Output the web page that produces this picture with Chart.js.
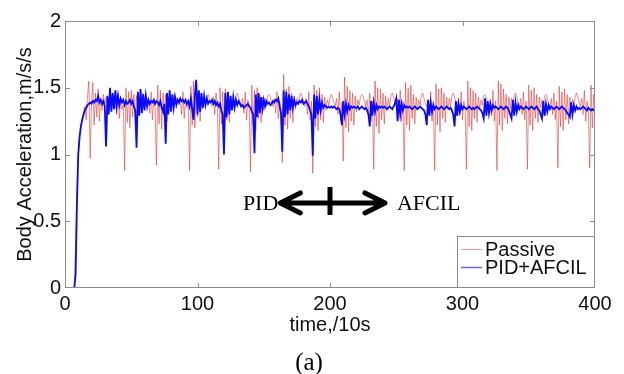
<!DOCTYPE html>
<html>
<head>
<meta charset="utf-8">
<script src="https://cdn.jsdelivr.net/npm/chart.js@4/dist/chart.umd.min.js"></script>
<style>
  html, body { margin: 0; padding: 0; background: #fff; }
  #wrap { width: 624px; height: 374px; }
</style>
</head>
<body>
<div id="wrap"><canvas id="myChart" width="624" height="374"></canvas></div>
<script>
// sample time (x 10 s), one reading per unit from 0 to 400
const timeStep = 1;

// passive suspension body acceleration, m/s/s
const passive = [
  0, 0, 0, 0, 0, 0, 0, 0, 0.32, 0.74,
  1.0, 1.14, 1.22, 1.27, 1.31, 1.36, 1.26, 1.44, 1.55, 0.97,
  1.40, 1.54, 1.22, 1.46, 1.28, 1.49, 1.25, 1.42, 1.33, 1.45,
  1.38, 1.43, 1.36, 1.41, 1.44, 1.42, 1.39, 1.36, 1.41, 1.30,
  1.46, 1.27, 1.40, 1.34, 1.37, 0.88, 1.50, 1.24, 1.47, 1.20,
  1.48, 1.28, 1.45, 1.26, 1.44, 1.34, 1.42, 1.37, 1.44, 1.46,
  1.43, 1.39, 1.36, 1.41, 1.31, 1.47, 1.26, 1.40, 1.35, 0.92,
  1.52, 1.23, 1.48, 1.19, 1.46, 1.29, 1.45, 1.25, 1.43, 1.35,
  1.41, 1.38, 1.44, 1.45, 1.42, 1.39, 1.37, 1.42, 1.30, 1.47,
  1.27, 1.41, 1.35, 1.38, 0.88, 1.51, 1.22, 1.55, 1.20, 1.49,
  1.28, 1.46, 1.25, 1.43, 1.34, 1.41, 1.37, 1.43, 1.45, 1.42,
  1.38, 1.36, 1.43, 1.30, 1.46, 1.36, 0.89, 1.50, 1.23, 1.47,
  1.19, 1.49, 1.26, 1.44, 1.24, 1.42, 1.35, 1.40, 1.37, 1.44,
  1.46, 1.43, 1.40, 1.37, 1.42, 1.31, 1.47, 1.26, 1.41, 1.36,
  0.87, 1.52, 1.22, 1.48, 1.18, 1.50, 1.27, 1.45, 1.24, 1.43,
  1.33, 1.42, 1.36, 1.44, 1.45, 1.43, 1.39, 1.36, 1.42, 1.31,
  1.47, 1.27, 1.40, 1.35, 0.94, 1.60, 1.22, 1.49, 1.19, 1.51,
  1.27, 1.46, 1.24, 1.44, 1.34, 1.42, 1.37, 1.44, 1.46, 1.43,
  1.39, 1.36, 1.42, 1.30, 1.47, 1.26, 1.40, 0.86, 1.52, 1.21,
  1.48, 1.18, 1.50, 1.26, 1.45, 1.24, 1.43, 1.33, 1.41, 1.37,
  1.43, 1.45, 1.42, 1.39, 1.36, 1.42, 1.30, 1.47, 1.25, 1.39,
  0.95, 1.58, 1.20, 1.51, 1.17, 1.48, 1.25, 1.46, 1.22, 1.44,
  1.32, 1.41, 1.37, 1.43, 1.45, 1.44, 1.40, 1.36, 1.41, 1.29,
  1.46, 1.25, 1.40, 0.89, 1.55, 1.21, 1.50, 1.16, 1.49, 1.26,
  1.46, 1.23, 1.44, 1.33, 1.42, 1.36, 1.44, 1.46, 1.43, 1.38,
  1.36, 1.42, 1.30, 1.48, 1.25, 1.40, 0.88, 1.54, 1.22, 1.50,
  1.18, 1.52, 1.27, 1.45, 1.23, 1.43, 1.34, 1.41, 1.37, 1.44,
  1.46, 1.42, 1.38, 1.36, 1.41, 1.30, 1.47, 1.25, 1.40, 0.88,
  1.53, 1.22, 1.49, 1.17, 1.50, 1.27, 1.46, 1.24, 1.43, 1.34,
  1.42, 1.36, 1.44, 1.46, 1.43, 1.39, 1.36, 1.42, 1.30, 1.47,
  1.26, 1.40, 1.35, 0.89, 1.55, 1.21, 1.50, 1.18, 1.48, 1.27,
  1.46, 1.24, 1.43, 1.34, 1.41, 1.37, 1.44, 1.45, 1.42, 1.38,
  1.36, 1.41, 1.29, 1.48, 1.25, 1.40, 0.88, 1.55, 1.22, 1.53,
  1.18, 1.49, 1.27, 1.45, 1.23, 1.43, 1.34, 1.42, 1.37, 1.44,
  1.46, 1.43, 1.39, 1.36, 1.42, 1.30, 1.47, 1.26, 1.40, 0.89,
  1.52, 1.22, 1.48, 1.18, 1.50, 1.27, 1.45, 1.24, 1.43, 1.35,
  1.41, 1.37, 1.44, 1.45, 1.42, 1.38, 1.36, 1.42, 1.30, 1.46,
  1.26, 1.40, 0.90, 1.51, 1.21, 1.47, 1.18, 1.49, 1.26, 1.45,
  1.23, 1.43, 1.33, 1.41, 1.37, 1.43, 1.46, 1.43, 1.39, 1.36,
  1.42, 1.30, 1.48, 1.25, 1.40, 1.33, 0.90, 1.52, 1.20, 1.45,
  1.30
];

// PID + AFCIL controlled body acceleration, m/s/s
const pidAfcil = [
  0, 0, 0, 0, 0, 0, 0, 0, 0.10, 0.62,
  1.0, 1.13, 1.21, 1.26, 1.30, 1.33, 1.35, 1.37, 1.38, 1.39,
  1.38, 1.40, 1.39, 1.41, 1.40, 1.44, 1.39, 1.41, 1.38, 1.40,
  1.36, 1.06, 1.44, 1.30, 1.50, 1.32, 1.46, 1.34, 1.48, 1.36,
  1.44, 1.37, 1.42, 1.39, 1.41, 1.37, 1.40, 1.38, 1.39, 1.41,
  1.38, 1.40, 1.36, 1.33, 1.05, 1.47, 1.29, 1.49, 1.31, 1.45,
  1.33, 1.44, 1.36, 1.41, 1.38, 1.40, 1.39, 1.41, 1.38, 1.40,
  1.39, 1.37, 1.40, 1.35, 1.32, 1.38, 1.08, 1.46, 1.30, 1.48,
  1.32, 1.45, 1.35, 1.43, 1.37, 1.41, 1.39, 1.42, 1.40, 1.41,
  1.39, 1.41, 1.38, 1.40, 1.36, 1.42, 1.34, 1.26, 1.44, 1.56,
  1.30, 1.48, 1.32, 1.46, 1.35, 1.44, 1.37, 1.42, 1.38, 1.40,
  1.39, 1.41, 1.38, 1.40, 1.37, 1.39, 1.36, 1.38, 1.33, 1.30,
  1.00, 1.46, 1.28, 1.47, 1.30, 1.44, 1.33, 1.43, 1.35, 1.41,
  1.37, 1.40, 1.38, 1.36, 1.37, 1.35, 1.36, 1.37, 1.38, 1.36,
  1.35, 1.32, 1.30, 1.01, 1.45, 1.28, 1.46, 1.31, 1.43, 1.34,
  1.41, 1.36, 1.40, 1.38, 1.39, 1.37, 1.38, 1.40, 1.39, 1.41,
  1.40, 1.42, 1.36, 1.31, 1.02, 1.48, 1.28, 1.47, 1.30, 1.45,
  1.33, 1.44, 1.35, 1.41, 1.37, 1.39, 1.38, 1.40, 1.39, 1.41,
  1.38, 1.39, 1.40, 1.38, 1.36, 1.33, 1.30, 0.99, 1.45, 1.27,
  1.44, 1.30, 1.41, 1.33, 1.39, 1.35, 1.37, 1.36, 1.35, 1.36,
  1.35, 1.36, 1.35, 1.36, 1.35, 1.34, 1.35, 1.34, 1.30, 1.22,
  1.40, 1.30, 1.38, 1.32, 1.37, 1.34, 1.36, 1.35, 1.36, 1.35,
  1.35, 1.36, 1.34, 1.35, 1.36, 1.35, 1.34, 1.35, 1.33, 1.30,
  1.21, 1.40, 1.29, 1.39, 1.32, 1.37, 1.34, 1.36, 1.35, 1.36,
  1.35, 1.36, 1.35, 1.34, 1.35, 1.36, 1.35, 1.34, 1.36, 1.38,
  1.42, 1.25, 1.41, 1.30, 1.38, 1.33, 1.37, 1.35, 1.36, 1.35,
  1.36, 1.35, 1.34, 1.35, 1.36, 1.35, 1.34, 1.35, 1.36, 1.35,
  1.34, 1.33, 1.30, 1.22, 1.41, 1.29, 1.39, 1.32, 1.37, 1.34,
  1.36, 1.35, 1.34, 1.35, 1.36, 1.35, 1.34, 1.35, 1.36, 1.35,
  1.34, 1.35, 1.33, 1.30, 1.21, 1.40, 1.29, 1.38, 1.32, 1.37,
  1.34, 1.36, 1.35, 1.34, 1.35, 1.36, 1.35, 1.34, 1.35, 1.34,
  1.35, 1.36, 1.35, 1.34, 1.33, 1.31, 1.27, 1.42, 1.29, 1.40,
  1.31, 1.38, 1.33, 1.37, 1.35, 1.36, 1.35, 1.34, 1.35, 1.36,
  1.35, 1.34, 1.35, 1.36, 1.35, 1.33, 1.30, 1.27, 1.41, 1.29,
  1.39, 1.32, 1.37, 1.34, 1.36, 1.35, 1.34, 1.35, 1.36, 1.35,
  1.34, 1.35, 1.36, 1.35, 1.34, 1.35, 1.36, 1.34, 1.33, 1.30,
  1.27, 1.40, 1.29, 1.38, 1.32, 1.37, 1.34, 1.36, 1.35, 1.34,
  1.35, 1.36, 1.35, 1.34, 1.35, 1.36, 1.35, 1.34, 1.33, 1.31,
  1.30, 1.28, 1.39, 1.30, 1.37, 1.33, 1.36, 1.34, 1.35, 1.34,
  1.35, 1.36, 1.35, 1.34, 1.33, 1.35, 1.34, 1.33, 1.34, 1.33,
  1.33
];

const xTicks = [0, 100, 200, 300, 400];
const yTicks = [0, 0.5, 1, 1.5, 2];

// annotation: PID <-|-> AFCIL (in data units)
const arrowFrom = 161, arrowTo = 243, arrowMid = 200, arrowY = 0.637;

const sans = 'Liberation Sans, Arial, sans-serif';
const serif = 'Liberation Serif, Times New Roman, serif';
const axisGray = '#8c8c8c';

const toPoints = arr => arr.map((v, i) => ({ x: i * timeStep, y: v }));

const frameAndTicks = {
    id: 'frameAndTicks',
    afterDatasetsDraw(chart) {
        const { ctx, chartArea: a, scales: { x, y } } = chart;
        ctx.save();
        ctx.strokeStyle = axisGray;
        ctx.lineWidth = 1;
        ctx.strokeRect(a.left + 0.5, a.top + 0.5, a.right - a.left - 1, a.bottom - a.top - 1);
        ctx.beginPath();
        xTicks.slice(1, -1).forEach(t => {
            const px = Math.round(x.getPixelForValue(t)) + 0.5;
            ctx.moveTo(px, a.bottom); ctx.lineTo(px, a.bottom - 5);
            ctx.moveTo(px, a.top); ctx.lineTo(px, a.top + 5);
        });
        yTicks.slice(1, -1).forEach(t => {
            const py = Math.round(y.getPixelForValue(t)) + 0.5;
            ctx.moveTo(a.left, py); ctx.lineTo(a.left + 5, py);
            ctx.moveTo(a.right, py); ctx.lineTo(a.right - 5, py);
        });
        ctx.stroke();
        ctx.restore();
    },
    afterDraw(chart) {
        const { ctx, chartArea: a, scales: { x, y } } = chart;
        ctx.save();

        // legend box, bottom right inside the axes
        const lw = 138, lh = 52;
        const lx = a.right - lw, ly = a.bottom - lh;
        ctx.fillStyle = '#fff';
        ctx.fillRect(lx, ly, lw, lh);
        ctx.strokeStyle = axisGray;
        ctx.lineWidth = 1;
        ctx.strokeRect(lx + 0.5, ly + 0.5, lw - 1, lh - 1);
        const entries = [
            { text: 'Passive', color: 'rgba(225,80,80,0.6)', w: 1, y: ly + 13 },
            { text: 'PID+AFCIL', color: 'rgba(40,40,230,0.7)', w: 1.5, y: ly + 31 }
        ];
        ctx.font = '20px ' + sans;
        ctx.textBaseline = 'middle';
        ctx.textAlign = 'left';
        entries.forEach(e => {
            ctx.strokeStyle = e.color;
            ctx.lineWidth = e.w;
            ctx.beginPath();
            ctx.moveTo(lx + 4, e.y + 0.5);
            ctx.lineTo(lx + 25, e.y + 0.5);
            ctx.stroke();
            ctx.fillStyle = '#111';
            ctx.fillText(e.text, lx + 28, e.y + 1);
        });

        // double arrow annotation
        const x0 = x.getPixelForValue(arrowFrom);
        const x1 = x.getPixelForValue(arrowTo);
        const xm = x.getPixelForValue(arrowMid);
        const ay = y.getPixelForValue(arrowY);
        ctx.strokeStyle = '#000';
        ctx.lineWidth = 5;
        ctx.lineCap = 'round';
        ctx.lineJoin = 'round';
        ctx.beginPath();
        ctx.moveTo(x0 + 3, ay); ctx.lineTo(x1 - 3, ay);
        ctx.moveTo(x0 + 22, ay - 10); ctx.lineTo(x0 + 2, ay); ctx.lineTo(x0 + 22, ay + 10);
        ctx.moveTo(x1 - 22, ay - 10); ctx.lineTo(x1 - 2, ay); ctx.lineTo(x1 - 22, ay + 10);
        ctx.stroke();
        ctx.lineCap = 'butt';
        ctx.beginPath();
        ctx.moveTo(xm, ay - 16); ctx.lineTo(xm, ay + 12);
        ctx.stroke();

        ctx.fillStyle = '#000';
        ctx.font = '22px ' + serif;
        ctx.textBaseline = 'alphabetic';
        ctx.textAlign = 'right';
        ctx.fillText('PID', x0, ay + 7);
        ctx.textAlign = 'left';
        ctx.fillText('AFCIL', x1 + 10, ay + 7);

        // caption
        ctx.font = '25px ' + serif;
        ctx.textAlign = 'center';
        ctx.fillText('(a)', 309, 370);
        ctx.restore();
    }
};

new Chart(document.getElementById('myChart'), {
    type: 'line',
    data: {
        datasets: [{
            label: 'PID+AFCIL',
            data: toPoints(pidAfcil),
            borderColor: 'rgb(10,10,250)',
            borderWidth: 1.8,
            order: 0
        }, {
            label: 'Passive',
            data: toPoints(passive),
            borderColor: 'rgba(222,45,45,0.55)',
            borderWidth: 1,
            order: 1
        }]
    },
    options: {
        responsive: false,
        animation: false,
        events: [],
        layout: { padding: { left: 0, top: 21, right: 29, bottom: 0 } },
        elements: { point: { radius: 0 }, line: { tension: 0 } },
        plugins: { legend: { display: false }, tooltip: { enabled: false } },
        scales: {
            x: {
                type: 'linear',
                min: 0,
                max: 400,
                afterFit: s => { s.height = 86; },
                afterBuildTicks: s => { s.ticks = xTicks.map(v => ({ value: v })); },
                grid: { display: false, drawTicks: false },
                border: { display: false },
                ticks: { color: '#111', padding: 4, maxRotation: 0, font: { family: sans, size: 20 } },
                title: {
                    display: true,
                    text: 'time,/10s',
                    color: '#111',
                    font: { family: sans, size: 20 },
                    padding: { top: 0, bottom: 37 }
                }
            },
            y: {
                min: 0,
                max: 2,
                afterFit: s => { s.width = 65; },
                afterBuildTicks: s => { s.ticks = yTicks.map(v => ({ value: v })); },
                grid: { display: false, drawTicks: false },
                border: { display: false },
                ticks: { color: '#111', padding: 4, font: { family: sans, size: 20 }, callback: v => String(v) },
                title: {
                    display: true,
                    text: 'Body Acceleration,m/s/s',
                    color: '#111',
                    font: { family: sans, size: 20 },
                    padding: { top: 13, bottom: 0 }
                }
            }
        }
    },
    plugins: [frameAndTicks]
});
</script>
</body>
</html>
